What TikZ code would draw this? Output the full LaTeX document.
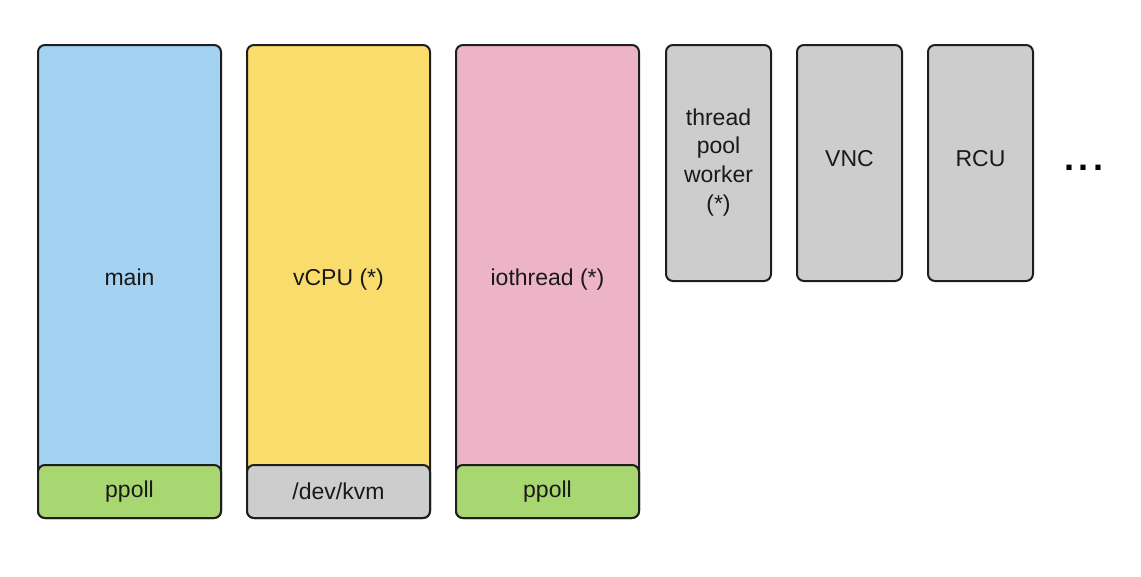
\documentclass[tikz,border=0pt]{standalone}
\usepackage{fontspec}
\setmainfont{Liberation Sans}
\usetikzlibrary{positioning}
\definecolor{thrblue}{HTML}{A3D2F2}
\definecolor{thryellow}{HTML}{F9DC6C}
\definecolor{thrpink}{HTML}{EDB4C8}
\definecolor{thrgreen}{HTML}{A8D670}
\definecolor{thrgrey}{HTML}{CDCDCD}
\definecolor{thrline}{HTML}{1E1E1E}
\tikzset{
  font=\fontsize{23}{28.7}\selectfont,
  thread/.style={draw=thrline,line width=2pt,rounded corners=7pt,inner sep=0pt,
                 anchor=north west,align=center,text=black!90},
  tall/.style={thread,minimum width=183pt,minimum height=473pt},
  short/.style={thread,minimum width=105pt,minimum height=236pt},
  waitbox/.style={thread,minimum width=183pt,minimum height=53pt},
}

\begin{document}
\begin{tikzpicture}[x=1pt,y=-1pt]
  \useasboundingbox (0,0) rectangle (1141,576);

  % ===== big threads with their blocking call at the bottom =====
  \node[tall,fill=thrblue]   (main) at (37,44)  {main\\[-20pt]};
  \node[tall,fill=thryellow] (vcpu) at (246,44) {vCPU (*)\\[-20pt]};
  \node[tall,fill=thrpink]   (io)   at (455,44) {iothread (*)\\[-20pt]};

  \node[waitbox,fill=thrgreen] (mainwait) at (37,464)  {ppoll};
  \node[waitbox,fill=thrgrey]  (vcpuwait) at (246,464) {/dev/kvm};
  \node[waitbox,fill=thrgreen] (iowait)   at (455,464) {ppoll};

  % ===== helper threads =====
  \node[short,fill=thrgrey] (pool) at (665,44) {thread\\pool\\worker\\(*)\\[-22.7pt]};
  \node[short,fill=thrgrey] (vnc)  at (796,44) {VNC\\[-20pt]};
  \node[short,fill=thrgrey] (rcu)  at (927,44) {RCU\\[-20pt]};

  % more threads
  \node[font=\fontsize{36}{36}\selectfont\bfseries,anchor=center] (more)
    at (1084,168) {.\hspace{5pt}.\hspace{5pt}.};
\end{tikzpicture}
\end{document}
